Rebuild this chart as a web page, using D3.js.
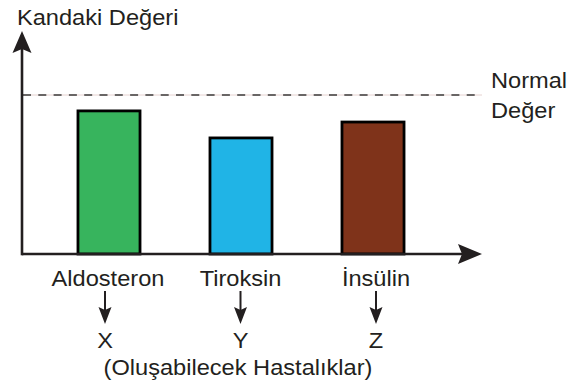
<!DOCTYPE html>
<html>
<head>
<meta charset="utf-8">
<script src="https://cdn.jsdelivr.net/npm/d3@7"></script>
<style>
  html, body { margin: 0; padding: 0; background: #fff; }
  svg text { font-family: "Liberation Sans", Arial, Helvetica, sans-serif; fill: #231f20; }
</style>
</head>
<body>
<svg id="chart" width="585" height="385"></svg>
<script>
// Hormone levels in the blood, relative to the normal value (= 100)
const hormones = ["Aldosteron", "Tiroksin", "İnsülin"];
const levels = [90, 73, 83];
const colors = ["#37b45d", "#20b4e6", "#7f331a"];
const diseases = ["X", "Y", "Z"];
const normalValue = 100;
const yTitle = "Kandaki Değeri";
const normalLabel = ["Normal", "Değer"];
const diseaseCaption = "(Oluşabilecek Hastalıklar)";

const svg = d3.select("#chart");
const ink = "#231f20";

const x0 = 22, baseY = 254, xEnd = 482, yTop = 31;

const x = d3.scaleBand()
  .domain(hormones)
  .range([x0, 460])
  .paddingInner(0.53)
  .paddingOuter(0.424);

const labelX = d3.scalePoint()
  .domain(hormones)
  .range([105, 376]);

const y = d3.scaleLinear()
  .domain([0, normalValue])
  .range([baseY, 95]);

// normal-value reference line
svg.append("line")
  .attr("x1", x0).attr("x2", xEnd)
  .attr("y1", y(normalValue)).attr("y2", y(normalValue))
  .attr("stroke", "#e6d2d0").attr("stroke-width", 1);
svg.append("line")
  .attr("x1", x0 + 1).attr("x2", xEnd)
  .attr("y1", y(normalValue)).attr("y2", y(normalValue))
  .attr("stroke", "#3d3b3b").attr("stroke-width", 1.6)
  .attr("stroke-dasharray", "8,7.3");

// bars
svg.append("g").selectAll("rect")
  .data(hormones)
  .join("rect")
  .attr("x", d => x(d))
  .attr("y", (d, i) => y(levels[i]))
  .attr("width", x.bandwidth())
  .attr("height", (d, i) => y(0) - y(levels[i]))
  .attr("fill", (d, i) => colors[i])
  .attr("stroke", "#000")
  .attr("stroke-width", 2.8);

// axes with arrowheads
svg.append("line")
  .attr("x1", x0).attr("x2", xEnd - 12)
  .attr("y1", baseY).attr("y2", baseY)
  .attr("stroke", ink).attr("stroke-width", 2.6);
svg.append("line")
  .attr("x1", x0).attr("x2", x0)
  .attr("y1", baseY + 1.3).attr("y2", yTop + 12)
  .attr("stroke", ink).attr("stroke-width", 2.6);
svg.append("path")
  .attr("d", `M${xEnd},${baseY} L${xEnd - 24},${baseY - 10} L${xEnd - 20},${baseY} L${xEnd - 24},${baseY + 10} Z`)
  .attr("fill", ink);
svg.append("path")
  .attr("d", `M${x0},${yTop} L${x0 - 9.5},${yTop + 22} L${x0},${yTop + 18} L${x0 + 9.5},${yTop + 22} Z`)
  .attr("fill", ink);

// axis titles
const fs = 22.5;
const sx = 1.05;
svg.append("text")
  .attr("transform", `translate(17,25) scale(${sx},1)`)
  .attr("font-size", fs)
  .text(yTitle);

svg.append("g").selectAll("text")
  .data(normalLabel)
  .join("text")
  .attr("transform", (d, i) => `translate(491,${88 + i * 30}) scale(${sx},1)`)
  .attr("font-size", fs)
  .text(d => d);

// hormone names, arrows and disease letters
const cols = svg.append("g").selectAll("g")
  .data(hormones)
  .join("g")
  .attr("transform", d => `translate(${labelX(d)},0)`);

cols.append("text")
  .attr("transform", (d, i) => `translate(${i === 0 ? 3 : 0},286) scale(${sx},1)`)
  .attr("text-anchor", "middle")
  .attr("font-size", fs)
  .text(d => d);

cols.append("line")
  .attr("x1", 0).attr("x2", 0)
  .attr("y1", 291).attr("y2", 312)
  .attr("stroke", ink).attr("stroke-width", 2);
cols.append("path")
  .attr("d", "M0,324 L-6.5,307 L0,310 L6.5,307 Z")
  .attr("fill", ink);

cols.append("text")
  .attr("transform", `translate(0,348) scale(${sx},1)`)
  .attr("text-anchor", "middle")
  .attr("font-size", fs)
  .text((d, i) => diseases[i]);

svg.append("text")
  .attr("transform", `translate(238,375) scale(${sx},1)`)
  .attr("text-anchor", "middle")
  .attr("font-size", fs)
  .text(diseaseCaption);
</script>
</body>
</html>
